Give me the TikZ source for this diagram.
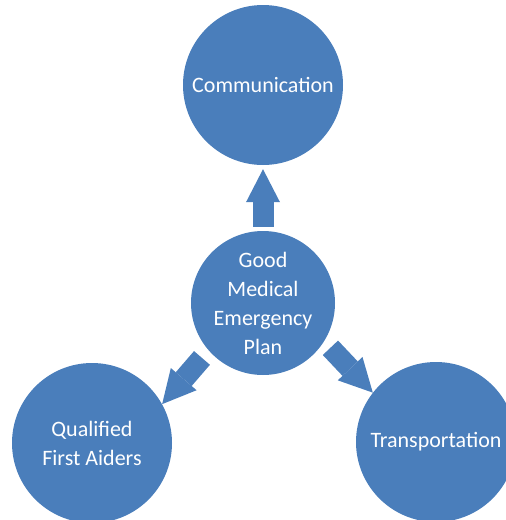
\documentclass[tikz,border=0pt]{standalone}
\usepackage{fontspec}
\setmainfont{Carlito}
\usepackage{tikz}
\usetikzlibrary{positioning, arrows.meta}
\definecolor{planblue}{HTML}{4A7EBB}
\begin{document}
\begin{tikzpicture}[x=1pt, y=-1pt,
	bubble/.style={circle, fill=planblue, text=white, inner sep=0pt, minimum size=160pt, align=center, font=\fontsize{22}{29}\selectfont},
	fat/.style={planblue, line width=21pt, -{Triangle[length=33pt, width=34pt, line width=0pt]}}]
	\clip (0,0) rectangle (506,520);
	\node [bubble, minimum size=144pt] (plan) at (263,303) {Good\\Medical\\Emergency\\Plan};
	\node [bubble] (comm) at (263,85) {Communication};
	\node [bubble] (aiders) at (92,443) {Qualified\\First Aiders};
	\node [bubble] (trans) at (436,442) {Transportation};
	
	\draw [fat, shorten <=4pt, shorten >=4pt] (plan.90) -- (comm.-90);
	\draw [fat, shorten <=10pt] (plan.-139) -- (aiders.29);
	\draw [fat, shorten <=9pt] (plan.-32) -- (trans.142);
\end{tikzpicture}
\end{document}
